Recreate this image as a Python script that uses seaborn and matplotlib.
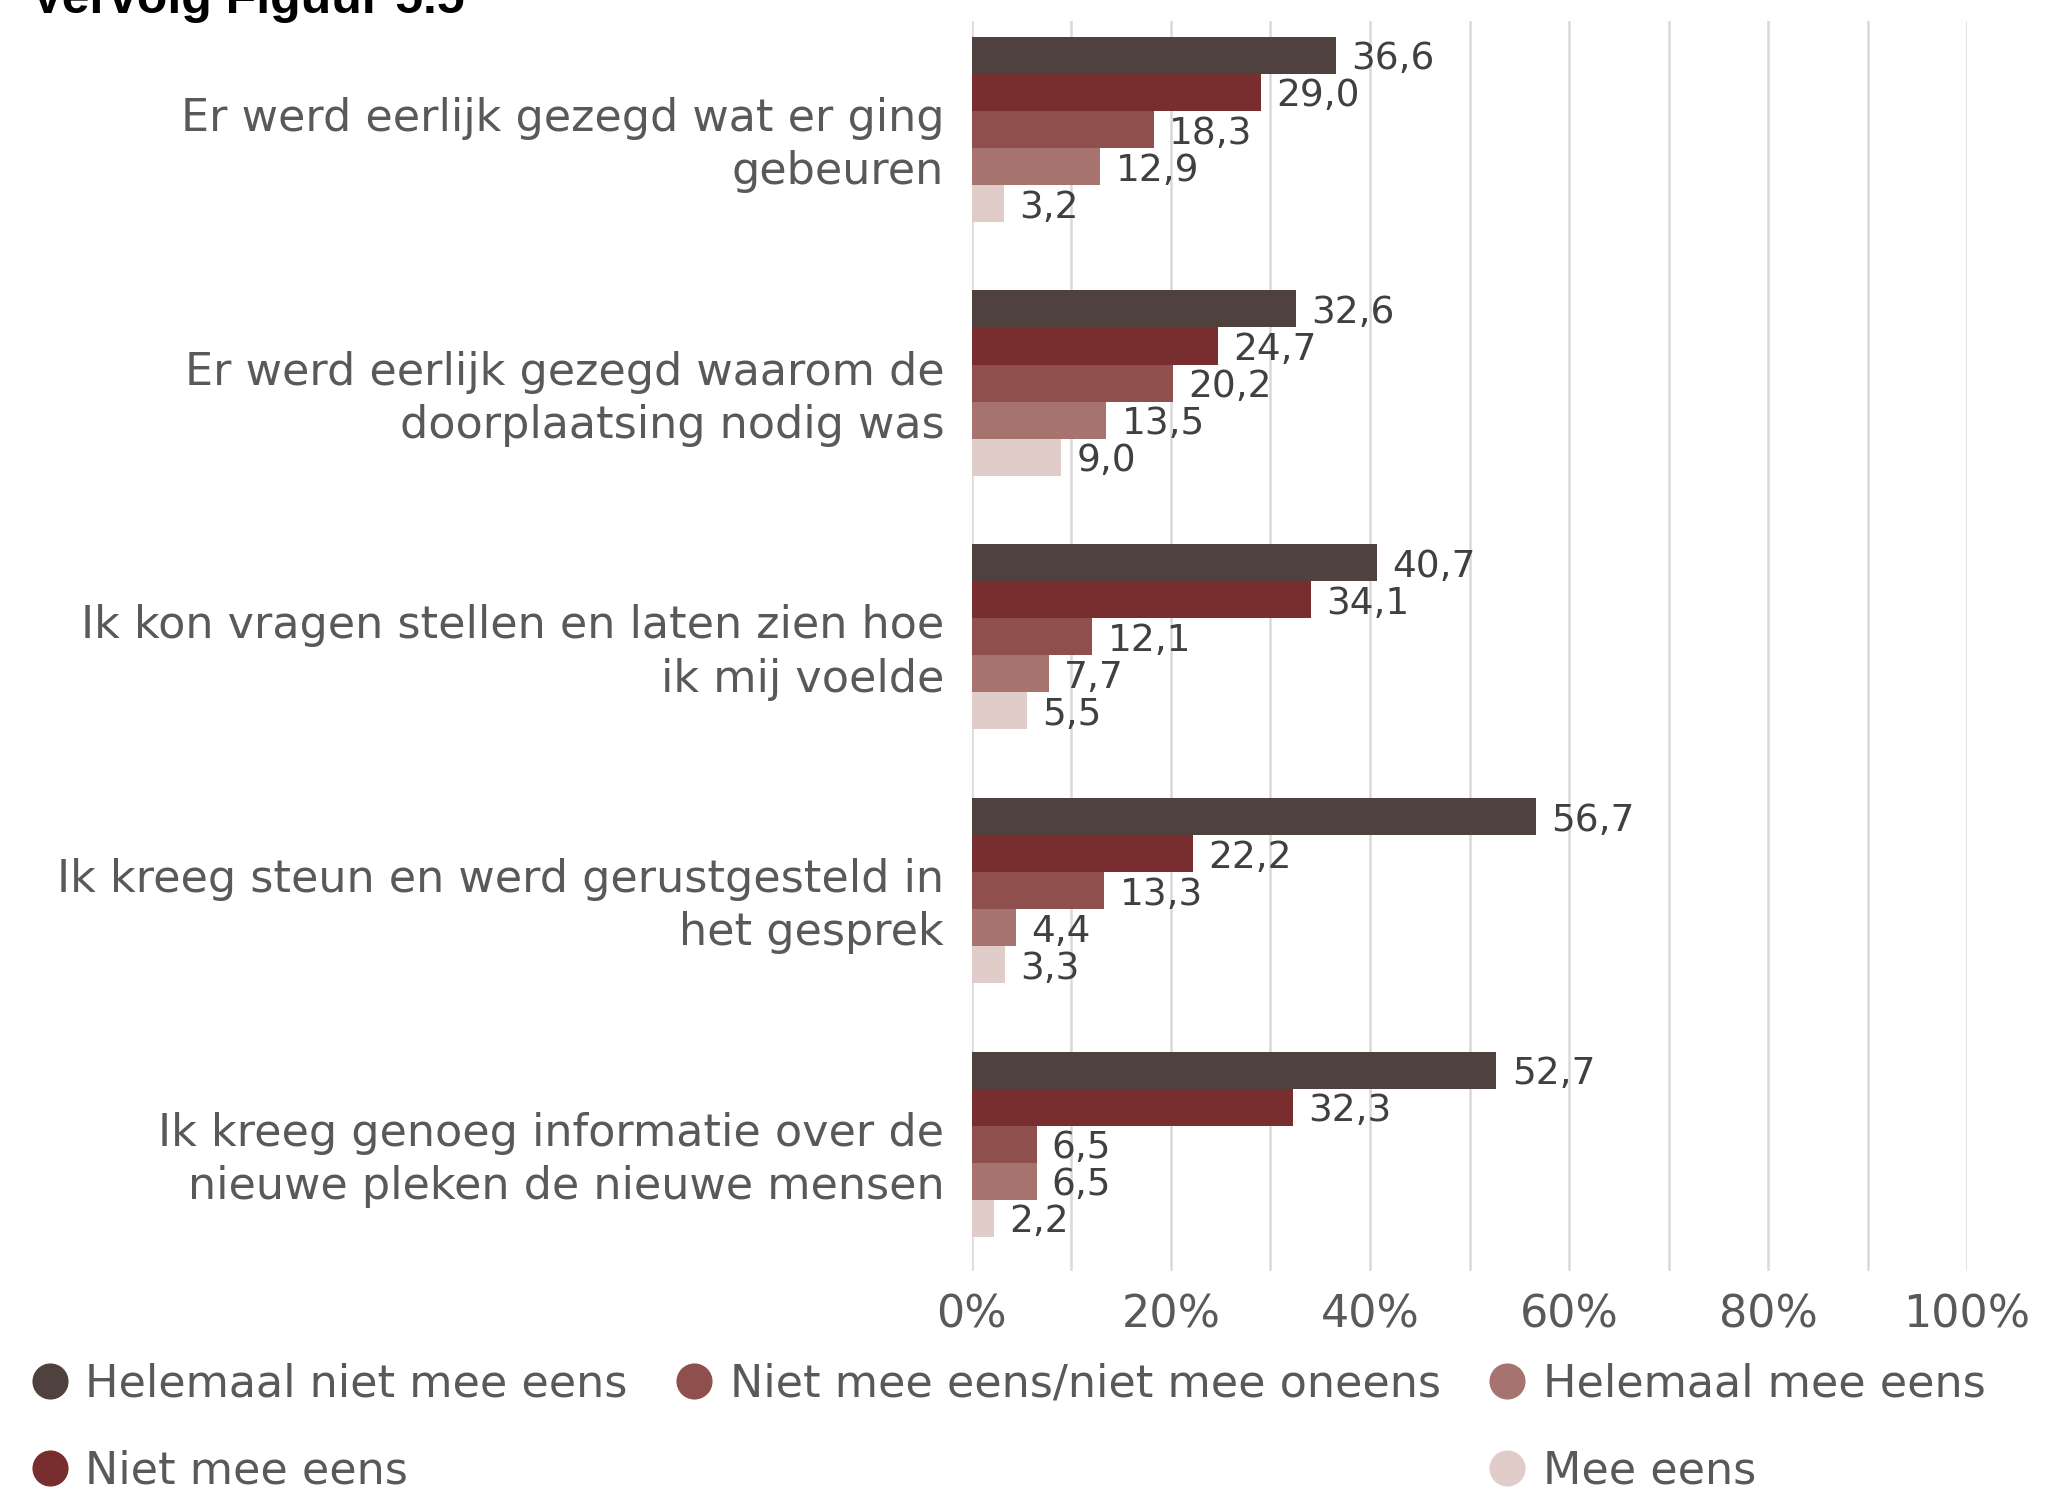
import pandas as pd
import numpy as np
import matplotlib
matplotlib.use("Agg")
import matplotlib.pyplot as plt
from matplotlib.lines import Line2D
from matplotlib.transforms import ScaledTranslation
import seaborn as sns

# Statements (y categories), wrapped like in the report
statements = [
    "Er werd eerlijk gezegd wat er ging\ngebeuren",
    "Er werd eerlijk gezegd waarom de\ndoorplaatsing nodig was",
    "Ik kon vragen stellen en laten zien hoe\nik mij voelde",
    "Ik kreeg steun en werd gerustgesteld in\nhet gesprek",
    "Ik kreeg genoeg informatie over de\nnieuwe pleken de nieuwe mensen",
]

# Answer categories, in bar order (top to bottom inside each group)
answers = [
    "Helemaal niet mee eens",
    "Niet mee eens",
    "Niet mee eens/niet mee oneens",
    "Helemaal mee eens",
    "Mee eens",
]

# Percentages per answer, one value per statement
helemaal_niet = [36.6, 32.6, 40.7, 56.7, 52.7]
niet_mee_eens = [29.0, 24.7, 34.1, 22.2, 32.3]
neutraal = [18.3, 20.2, 12.1, 13.3, 6.5]
helemaal_mee = [12.9, 13.5, 7.7, 4.4, 6.5]
mee_eens = [3.2, 9.0, 5.5, 3.3, 2.2]

colors = ["#4f413e", "#782d2f", "#8e4f4d", "#a6736e", "#e0ccc9"]

x_ticks = [0, 20, 40, 60, 80, 100]

# long format for seaborn
series = [helemaal_niet, niet_mee_eens, neutraal, helemaal_mee, mee_eens]
rows = []
for ans, vals in zip(answers, series):
    for st, v in zip(statements, vals):
        rows.append({"statement": st, "answer": ans, "pct": v})
df = pd.DataFrame(rows)

sns.set_theme(style="white")
plt.rcParams["font.family"] = ["DejaVu Sans"]

fig = plt.figure(figsize=(20.6, 14.9), dpi=100)
ax = fig.add_axes([0.4718, 0.147, 0.9549 - 0.4718, 0.9859 - 0.147])

sns.barplot(data=df, y="statement", x="pct", hue="answer", order=statements,
            hue_order=answers, palette=colors, orient="h", width=0.73,
            saturation=1, legend=False, linewidth=0, ax=ax)

# value labels with a decimal comma, nudged a little below the bar centre
for cont, vals in zip(ax.containers, series):
    anns = ax.bar_label(cont, labels=[f"{v:.1f}".replace(".", ",") for v in vals],
                        padding=11, fontsize=27, color="#404040")
    for a in anns:
        a.xyann = (11, -3)

ax.set_xlim(0, 100)
ax.set_ylim(4.5, -0.427)
ax.set_xticks(x_ticks)
ax.set_xticklabels([f"{t}%" for t in x_ticks])
ax.set_xticks(np.arange(10, 100, 20), minor=True)
ax.grid(axis="x", which="both", color="#d9d9d9", linewidth=1.8)
ax.set_axisbelow(True)
ax.tick_params(axis="x", length=0, which="both", labelsize=32, labelcolor="#595959", pad=16)
ax.tick_params(axis="y", length=0, labelsize=32, labelcolor="#595959", pad=20)
for lab in ax.get_yticklabels():
    lab.set_linespacing(1.3)
    lab.set_transform(lab.get_transform() + ScaledTranslation(0, -4.5 / 72, fig.dpi_scale_trans))
ax.set_xlabel("")
ax.set_ylabel("")
for s in ax.spines.values():
    s.set_visible(False)

# legend: three columns, the middle one with a single entry
handles = [Line2D([], [], marker="o", linestyle="", markersize=25,
                  markerfacecolor=c, markeredgecolor=c) for c in colors]
labels = list(answers)
blank = Line2D([], [], linestyle="", marker="")
leg_handles = [handles[0], handles[1], handles[2], blank, handles[3], handles[4]]
leg_labels = [labels[0], labels[1], labels[2], "", labels[3], labels[4]]
fig.legend(leg_handles, leg_labels, ncol=3, loc="upper left",
           bbox_to_anchor=(-0.004, 0.1125), frameon=False, fontsize=32,
           labelcolor="#595959", handlelength=0.8, handletextpad=0.4,
           columnspacing=1.1, labelspacing=1.0)

fig.text(0.015, 1 - 13 / 1490, "Vervolg Figuur 5.5", fontsize=36,
         fontweight="bold", color="black", va="baseline",
         family=["Liberation Sans Narrow", "Liberation Sans"])

fig.savefig("out.png", dpi=100)
